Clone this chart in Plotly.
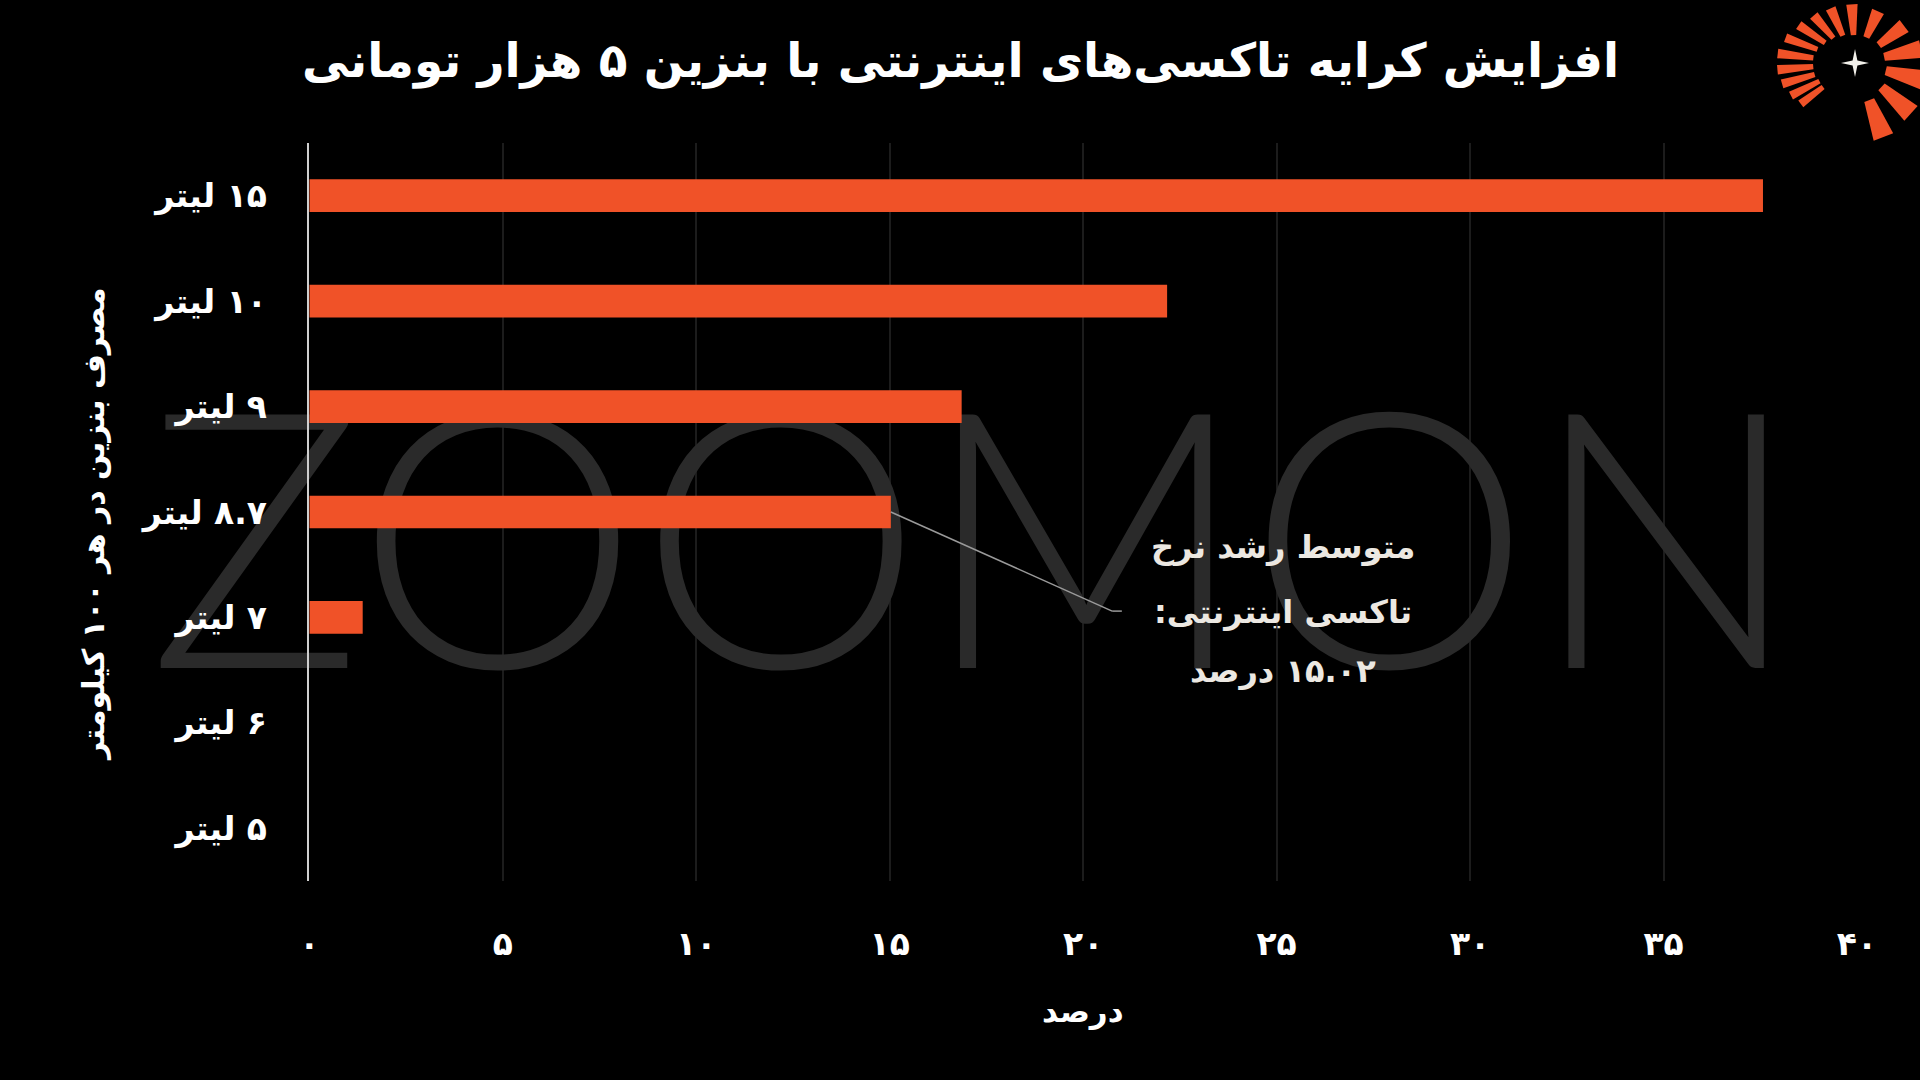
import math
import plotly.graph_objects as go

# ---------------- data ----------------
RLM = "\u200f"
categories = ["۵ لیتر", "۶ لیتر", "۷ لیتر", "۸.۷ لیتر", "۹ لیتر", "۱۰ لیتر", "۱۵ لیتر"]
growth_pct = [0, 0, 1.38, 15.03, 16.86, 22.17, 37.57]
x_tickvals = [0, 5, 10, 15, 20, 25, 30, 35, 40]
x_ticktext = ["۰", "۵", "۱۰", "۱۵", "۲۰", "۲۵", "۳۰", "۳۵", "۴۰"]
title_text = "افزایش کرایه تاکسی\u200cهای اینترنتی با بنزین ۵ هزار تومانی"
y_title = "مصرف بنزین در هر ۱۰۰ کیلومتر"
x_title = "درصد"
note_lines = ["متوسط رشد نرخ", "تاکسی اینترنتی:", "۱۵.۰۲ درصد"]
avg_growth = 15.03
avg_category_index = 3

def rtl(s):
    return RLM + s + RLM

W, H = 1920, 1080
FONT = "DejaVu Sans"
ORANGE = "#F05228"

y_pos = list(range(len(categories)))
X_RANGE = [0, 40]
Y_RANGE = [-0.5, 6.5]

fig = go.Figure()

# watermark on the base axes (drawn under the bars of the overlay axes)
fig.add_trace(go.Scatter(
    x=[17.2], y=[2.37], mode="text", text=["ZOOMON"],
    textfont=dict(family="Lato", size=358, color="#2a2a2a", weight=300),
    cliponaxis=False, hoverinfo="skip", showlegend=False,
    xaxis="x", yaxis="y",
))

fig.add_trace(go.Bar(
    x=growth_pct, y=y_pos, orientation="h", width=0.31,
    marker=dict(color=ORANGE, line=dict(width=0)),
    hoverinfo="skip", showlegend=False,
    xaxis="x2", yaxis="y2",
))

x_dom = [309.3 / W, 1857 / W]
y_dom = [1 - 881 / H, 1 - 143 / H]

fig.update_layout(
    width=W, height=H,
    margin=dict(l=0, r=0, t=0, b=0),
    paper_bgcolor="#000000", plot_bgcolor="#000000",
    font=dict(family=FONT, color="#FFFFFF"),
    xaxis=dict(
        domain=x_dom, range=X_RANGE, tickvals=x_tickvals, ticktext=x_ticktext,
        showgrid=True, gridcolor="#1c1c1c", gridwidth=1.5, zeroline=False,
        showline=False, ticks="", ticklabelstandoff=40,
        tickfont=dict(family=FONT, size=33, color="#FFFFFF", weight="bold"),
        automargin=False, fixedrange=True, anchor="y",
    ),
    yaxis=dict(
        domain=y_dom, range=Y_RANGE, tickvals=y_pos,
        ticktext=[rtl(c) for c in categories],
        showgrid=False, zeroline=False,
        showline=True, linecolor="#cfcfcf", linewidth=1.5,
        ticks="", ticklabelstandoff=34,
        tickfont=dict(family=FONT, size=33, color="#FFFFFF", weight="bold"),
        automargin=False, fixedrange=True, anchor="x",
    ),
    xaxis2=dict(domain=x_dom, range=X_RANGE, overlaying="x", anchor="y2",
                visible=False, fixedrange=True),
    yaxis2=dict(domain=y_dom, range=Y_RANGE, overlaying="y", anchor="x2",
                visible=False, fixedrange=True),
)

annotations = [
    dict(text=rtl(title_text), x=960 / W, y=1 - 61 / H, xref="paper", yref="paper",
         xanchor="center", yanchor="middle", showarrow=False,
         font=dict(family=FONT, size=47, color="#FFFFFF", weight="bold")),
    dict(text=rtl(y_title), x=93 / W, y=1 - 524 / H, xref="paper", yref="paper",
         xanchor="center", yanchor="middle", showarrow=False, textangle=-90,
         font=dict(family=FONT, size=30, color="#FFFFFF", weight="bold")),
    dict(text=rtl(x_title), x=1083 / W, y=1 - 1011 / H, xref="paper", yref="paper",
         xanchor="center", yanchor="middle", showarrow=False,
         font=dict(family=FONT, size=31, color="#FFFFFF", weight="bold")),
]
for line, py in zip(note_lines, [547, 612, 671]):
    annotations.append(dict(
        text=rtl(line), x=1283 / W, y=1 - py / H, xref="paper", yref="paper",
        xanchor="center", yanchor="middle", showarrow=False,
        font=dict(family=FONT, size=32, color="#ECE8E2", weight="bold")))
fig.update_layout(annotations=annotations)

# leader line from the average bar to the note
fig.add_shape(type="line", xref="x", yref="y",
              x0=avg_growth, y0=avg_category_index, x1=20.75, y1=2.06,
              line=dict(color="#9a9a9a", width=1.5))
fig.add_shape(type="line", xref="x", yref="y",
              x0=20.75, y0=2.06, x1=21.0, y1=2.06,
              line=dict(color="#9a9a9a", width=1.5))

# ---------------- logo (decoration, top-right) ----------------
cx, cy = 1855, 63
ray_ang = [-69, -42, -14, 12, 37, 66, 93, 114, 131, 146, 160, 173, 185, 196, 207, 217]
ray_w = [15, 15, 16, 15, 14, 13, 11, 10, 9, 8, 7, 7, 7, 7, 7, 7]
ray_rin = [40, 36, 32, 30, 30, 28, 28, 30, 33, 36, 40, 42, 42, 42, 40, 40]
ray_rout = [80, 76, 72, 68, 62, 57, 59, 60, 63, 68, 74, 78, 78, 76, 72, 68]

def to_paper(px, py):
    return px / W, 1 - py / H

for a, w, r0, r1 in zip(ray_ang, ray_w, ray_rin, ray_rout):
    pts = []
    for ang, r in [(a - w / 2, r0), (a + w / 2, r0), (a + w / 2, r1), (a - w / 2, r1)]:
        t = math.radians(ang)
        pts.append(to_paper(cx + r * math.cos(t), cy - r * math.sin(t)))
    path = "M " + " L ".join(f"{x:.5f},{y:.5f}" for x, y in pts) + " Z"
    fig.add_shape(type="path", xref="paper", yref="paper", path=path,
                  fillcolor=ORANGE, line=dict(width=0))

star = []
for k in range(8):
    ang = math.radians(90 + k * 45)
    r = 14 if k % 2 == 0 else 3.4
    star.append(to_paper(cx + r * math.cos(ang), cy - r * math.sin(ang)))
spath = "M " + " L ".join(f"{x:.5f},{y:.5f}" for x, y in star) + " Z"
fig.add_shape(type="path", xref="paper", yref="paper", path=spath,
              fillcolor="#F2F0EA", line=dict(width=0))

fig.write_html("out.html")
